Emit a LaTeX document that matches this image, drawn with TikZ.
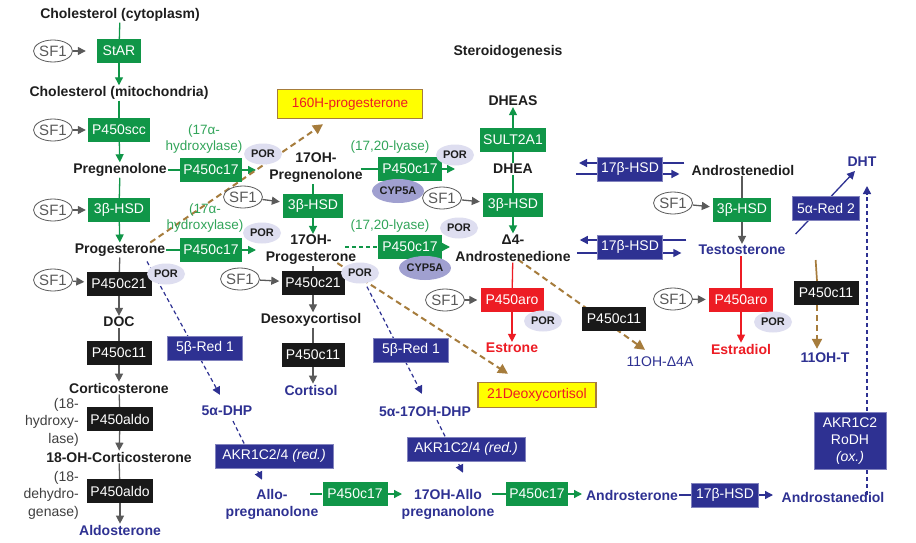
\documentclass[tikz,border=0pt]{standalone}
\usepackage{fontspec}
\setmainfont{Liberation Sans}
\usetikzlibrary{arrows.meta,shapes.geometric,calc}
\definecolor{gr}{RGB}{16,150,72}
\definecolor{grt}{RGB}{50,165,90}
\definecolor{nv}{RGB}{46,49,146}
\definecolor{rd}{RGB}{237,28,36}
\definecolor{br}{RGB}{166,124,60}
\definecolor{gy}{RGB}{90,90,90}
\definecolor{lav}{RGB}{222,222,240}
\definecolor{lavd}{RGB}{160,160,208}
\definecolor{txt}{RGB}{30,30,30}
\definecolor{yl}{RGB}{255,255,0}
\pgfdeclarelayer{back}
\pgfdeclarelayer{bg}
\pgfsetlayers{back,bg,main}
\begin{document}
\begin{tikzpicture}[x=1pt,y=-1pt,
 met/.style={font=\bfseries\fontsize{14}{17}\selectfont, text=txt, align=center, inner sep=1pt},
 bmet/.style={met, text=nv},
 rmet/.style={met, text=rd},
 box/.style={font=\fontsize{14}{16}\selectfont, text=white, minimum height=24pt, inner xsep=3pt, inner ysep=1pt, minimum width=62pt},
 gbox/.style={box, fill=gr},
 kbox/.style={box, fill=black!90},
 nbox/.style={box, fill=nv, draw=nv!60, line width=0.8pt},
 rbox/.style={box, fill=rd},
 ybox/.style={fill=yl, draw=br, line width=1.4pt, text=rd, font=\fontsize{13.5}{15}\selectfont, minimum height=25pt},
 sf/.style={ellipse, draw=gy, line width=0.8pt, text=gy, font=\fontsize{15}{16}\selectfont, minimum width=39pt, minimum height=22pt, inner sep=0pt},
 por/.style={ellipse, fill=lav, text=txt, font=\bfseries\fontsize{11}{12}\selectfont, minimum width=38pt, minimum height=21pt, inner sep=0pt},
 cyp/.style={por, fill=lavd, minimum width=45pt, minimum height=24pt},
 gnote/.style={text=grt, font=\fontsize{13.5}{16}\selectfont, align=center, inner sep=0pt},
 knote/.style={text=txt!85, font=\fontsize{14}{17.5}\selectfont, align=right, inner sep=0pt},
 tip/.style={-{Triangle[length=8pt,width=8pt]}},
 gyl/.style={draw=gy, line width=1.3pt},
 gya/.style={gyl, tip},
 gl/.style={draw=gr, line width=1.3pt},
 ga/.style={gl, tip},
 rl/.style={draw=rd, line width=1.3pt},
 ra/.style={rl, tip},
 nl/.style={draw=nv, line width=1.3pt},
 na/.style={nl, tip},
 nda/.style={nl, line width=1.2pt, dash pattern=on 4pt off 3pt, tip},
 brl/.style={draw=br, line width=2pt},
 bda/.style={brl, dash pattern=on 6pt off 4pt, -{Triangle[length=10pt,width=10pt]}},
 ]
\useasboundingbox (0,0) rectangle (916,543);
\begin{pgfonlayer}{back}
\fill[white] (0,0) rectangle (916,543);
\end{pgfonlayer}

% ---------- column 1
\node[met] (chol1) at (120,15) {Cholesterol (cytoplasm)};
\node[gbox, minimum width=44pt] (star) at (119,51) {StAR};
\node[sf] (sf1) at (53,51) {SF1};
\node[met] (chol2) at (119,93) {Cholesterol (mitochondria)};
\node[gbox] (scc) at (119,130) {P450scc};
\node[sf] (sf2) at (53,130) {SF1};
\node[met] (preg) at (120,170) {Pregnenolone};
\node[gbox] (hsd1) at (119,210) {3β-HSD};
\node[sf] (sf3) at (53,210) {SF1};
\node[met] (prog) at (120,250) {Progesterone};
\node[kbox, minimum width=65pt] (c21a) at (119,284) {P450c21};
\node[sf] (sf4) at (53,280) {SF1};
\node[por] (pora) at (166,274) {POR};
\node[met] (doc) at (119,322) {DOC};
\node[kbox, minimum width=65pt] (c11a) at (119,353) {P450c11};
\node[met] (cort) at (119,388) {Corticosterone};
\node[kbox, minimum width=65pt] (aldo1) at (120,419) {P450aldo};
\node[knote, anchor=east] (n18a) at (79,422) {(18-\\hydroxy-\\lase)};
\node[met] (ohc) at (119,457) {18-OH-Corticosterone};
\node[kbox, minimum width=65pt] (aldo2) at (120,491) {P450aldo};
\node[knote, anchor=east] (n18b) at (79,495) {(18-\\dehydro-\\genase)};
\node[bmet] (aldst) at (120,530) {Aldosterone};

% ---------- column 2 (upper)
\node[gbox] (c17a) at (211,170) {P450c17};
\node[gnote] (n17a) at (204,139) {(17α-\\hydroxylase)};
\node[por] (porb) at (263,154) {POR};
\coordinate (c17aend) at (256,170);
\node[met] (ohpreg) at (316,168) {17OH-\\Pregnenolone};
\node[sf] (sf5) at (243,197) {SF1};
\node[gbox, minimum width=60pt] (hsd2) at (313,206) {3β-HSD};
\node[gbox] (c17b) at (211,250) {P450c17};
\node[gnote] (n17b) at (205,218) {(17α-\\hydroxylase)};
\node[por] (porc) at (262,233) {POR};
\coordinate (c17bend) at (256,250);
\node[met] (ohprog) at (311,250) {17OH-\\Progesterone};
\node[ybox, minimum width=145pt, minimum height=29pt] (oh16) at (350,104) {160H-progesterone};

% ---------- column 3 (upper)
\node[gbox, minimum width=64pt] (c17c) at (410,169) {P450c17};
\node[gnote] (n17c) at (390,147) {(17,20-lyase)};
\node[por] (pord) at (455,155) {POR};
\node[cyp] (cypa) at (398,191) {CYP5A};
\coordinate (c17cend) at (455,169);
\node[met] (dhea) at (513,169) {DHEA};
\node[gbox, minimum width=66pt] (sult) at (513,140) {SULT2A1};
\node[met] (dheas) at (513,101) {DHEAS};
\node[met] (title) at (508,52) {Steroidogenesis};
\node[sf] (sf6) at (442,198) {SF1};
\node[gbox, minimum width=60pt] (hsd3) at (513,205) {3β-HSD};
\node[met] (andro) at (513,248) {Δ4-\\Androstenedione};
\node[gbox, minimum width=64pt] (c17d) at (410,247) {P450c17};
\node[gnote] (n17d) at (390,226) {(17,20-lyase)};
\node[por] (pore) at (459,228) {POR};
\node[cyp] (cypb) at (425,268) {CYP5A};
\coordinate (c17dend) at (450,247);

% ---------- middle lower
\node[kbox, minimum width=63pt] (c21b) at (313,283) {P450c21};
\node[sf] (sf7) at (240,279) {SF1};
\node[por] (porf) at (360,273) {POR};
\node[met] (desoxy) at (311,320) {Desoxycortisol};
\node[kbox, minimum width=63pt] (c11b) at (313,355) {P450c11};
\node[bmet] (cortisol) at (311,390) {Cortisol};
\node[nbox, minimum width=75pt] (red1a) at (205,348) {5β-Red 1};
\node[bmet] (dhp) at (227,411) {5α-DHP};
\node[nbox, minimum width=75pt] (red1b) at (411,350) {5β-Red 1};
\node[bmet] (ohdhp) at (425,412) {5α-17OH-DHP};
\node[ybox, minimum width=118pt, font=\fontsize{14}{16}\selectfont] (deoxy21) at (537,395) {21Deoxycortisol};
\node[rbox, minimum width=63pt] (aroa) at (512,300) {P450aro};
\node[sf] (sf8) at (445,300) {SF1};
\node[por] (porg) at (543,321) {POR};
\node[rmet] (estrone) at (512,348) {Estrone};
\node[kbox, minimum width=64pt] (c11c) at (614,319) {P450c11};
\node[font=\fontsize{14}{16}\selectfont, text=nv, inner sep=1pt] (oh4a) at (660,362) {11OH-Δ4A};

% ---------- bottom row
\node[nbox, minimum width=118pt] (akra) at (274,456) {AKR1C2/4 \textit{(red.)}};
\node[bmet] (allo) at (272,504) {Allo-\\pregnanolone};
\node[gbox, minimum width=65pt] (c17e) at (355,494) {P450c17};
\coordinate (c17eend) at (402,494);
\node[bmet] (ohallo) at (448,504) {17OH-Allo\\pregnanolone};
\node[nbox, minimum width=118pt] (akrb) at (466,449) {AKR1C2/4 \textit{(red.)}};
\node[gbox, minimum width=62pt] (c17f) at (537,494) {P450c17};
\coordinate (c17fend) at (582,494);
\node[bmet] (androst) at (632,495) {Androsterone};
\node[nbox, minimum width=67pt] (hsd17c) at (725,495) {17β-HSD};
\coordinate (hsd17cend) at (773,495);
\node[bmet] (adiol) at (833,497) {Androstanediol};
\node[nbox, minimum width=72pt, minimum height=57pt, align=center, font=\fontsize{14}{17}\selectfont] (akrc) at (850,441) {AKR1C2\\RoDH\\\textit{(ox.)}};
\coordinate (dhtin) at (867,186);

% ---------- right
\node[nbox, minimum width=65pt] (hsd17a) at (630,169) {17β-HSD};
\node[nbox, minimum width=65pt] (hsd17b) at (630,247) {17β-HSD};
\node[met] (adiene) at (743,170) {Androstenediol};
\node[gbox, minimum width=58pt] (hsd4) at (742,210) {3β-HSD};
\node[sf] (sf9) at (673,203) {SF1};
\node[bmet] (testo) at (742,250) {Testosterone};
\node[rbox, minimum width=64pt] (arob) at (741,300) {P450aro};
\node[sf] (sf10) at (673,299) {SF1};
\node[por] (porh) at (773,322) {POR};
\node[rmet] (estradiol) at (741,349) {Estradiol};
\node[nbox, minimum width=67pt] (red2) at (826,208) {5α-Red 2};
\node[bmet] (dht) at (862,162) {DHT};
\node[kbox, minimum width=65pt] (c11d) at (826,293) {P450c11};
\node[bmet] (oht) at (825,358) {11OH-T};

\begin{pgfonlayer}{bg}
% column 1
\draw[gl] (chol1) -- (star);
\draw[ga] (star) -- (chol2);
\draw[gya, shorten >=11pt] (sf1) -- (star);
\draw[gl] (chol2) -- (scc);
\draw[ga] (scc) -- (preg);
\draw[gya, shorten >=2pt] (sf2) -- (scc);
\draw[gl] (preg) -- (hsd1);
\draw[ga] (hsd1) -- (prog);
\draw[gya, shorten >=2pt] (sf3) -- (hsd1);
\draw[gyl] (prog) -- (c21a);
\draw[gya] (c21a) -- (doc);
\draw[gya, shorten >=2pt] (sf4) -- (c21a);
\draw[gyl] (doc) -- (c11a);
\draw[gya] (c11a) -- (cort);
\draw[gyl] (cort) -- (aldo1);
\draw[gya] (aldo1) -- (ohc);
\draw[gyl] (ohc) -- (aldo2);
\draw[gya] (aldo2) -- (aldst);
% P450c17 branches
\draw[gl] (preg) -- (c17a);
\draw[ga] (c17a) -- (c17aend);
\draw[gl] (prog) -- (c17b);
\draw[ga] (c17b) -- (c17bend);
\draw[gl] (hsd2 |- ohpreg.south) -- (hsd2);
\draw[ga] (hsd2) -- (hsd2 |- ohprog.north);
\draw[gya, shorten >=3pt] (sf5) -- (hsd2);
\draw[gyl] (c21b |- ohprog.south) -- (c21b);
\draw[gya] (c21b) -- (c21b |- desoxy.north);
\draw[gya, shorten >=2pt] (sf7) -- (c21b);
\draw[gyl] (c11b |- desoxy.south) -- (c11b);
\draw[gya] (c11b) -- (c11b |- cortisol.north);
\draw[gl] ($(ohpreg.east |- c17c)+(-3,0)$) -- (c17c);
\draw[ga] (c17c) -- (c17cend);
\draw[gl, dash pattern=on 4pt off 3pt] ($(ohprog.east |- c17d)+(-12,0)$) -- (c17d);
\draw[ga] (c17d) -- (c17dend);
% DHEA column
\draw[gl] (dhea) -- (sult);
\draw[ga] (sult) -- (dheas);
\draw[gl] (dhea) -- (hsd3);
\draw[ga] (hsd3) -- (andro);
\draw[gya, shorten >=3pt] (sf6) -- (hsd3);
\draw[rl] (andro) -- (aroa);
\draw[ra] (aroa) -- (estrone);
\draw[gya, shorten >=3pt] (sf8) -- (aroa);
% brown dashed
\draw[bda] ($(prog.north east)+(-16,0)$) -- ($(oh16.south)+(-27,5)$);
\draw[bda] ($(ohprog.south east)+(-20,-3)$) -- ($(deoxy21.north)+(-29,-8)$);
\draw[bda] ($(andro.south)+(5,-3)$) -- ($(oh4a.north)+(-15,-6)$);
% blue dashed
\draw[nda] ($(prog.south)+(27,4)$) -- ($(dhp.north)+(-7,-10)$);
\draw[nda] ($(porf.south)+(7,3)$) -- ($(ohdhp.north)+(-3,-12)$);
\draw[nda] ($(dhp.south)+(6,4)$) -- ($(allo.north)+(-10,-8)$);
\draw[nda] ($(ohdhp.south)+(12,2)$) -- ($(ohallo.north)+(15,-15)$);
% bottom row
\draw[gl] ($(allo.east |- c17e)+(-9,0)$) -- (c17e);
\draw[ga] (c17e) -- (c17eend);
\draw[gl] ($(ohallo.east |- c17f)+(-3,0)$) -- (c17f);
\draw[ga] (c17f) -- (c17fend);
\draw[nl] (androst) -- (hsd17c);
\draw[na] (hsd17c) -- (hsd17cend);
\draw[nda, line width=1.5pt] ($(adiol.north)+(34,4)$) -- (dhtin);
% 17beta-HSD pairs
\draw[na] ($(adiene.west |- hsd17a)+(-6,-6)$) -- ($(dhea.east |- hsd17a)+(45,-6)$);
\draw[na] ($(dhea.east |- hsd17a)+(42,5)$) -- ($(adiene.west |- hsd17a)+(-11,5)$);
\draw[na] ($(testo.west |- hsd17b)+(-11,-7)$) -- ($(andro.east |- hsd17b)+(8,-7)$);
\draw[na] ($(andro.east |- hsd17b)+(5,6)$) -- ($(testo.west |- hsd17b)+(-16,6)$);
% right column
\draw[gyl] (hsd4 |- adiene.south) -- (hsd4);
\draw[gya] (hsd4) -- (hsd4 |- testo.north);
\draw[gya, shorten >=3pt] (sf9) -- (hsd4);
\draw[rl] (arob |- testo.south) -- (arob);
\draw[ra] (arob) -- (arob |- estradiol.north);
\draw[gya, shorten >=3pt] (sf10) -- (arob);
\draw[na] ($(testo.east)+(9,-16)$) -- ($(dht.south)+(-7,3)$);
\draw[draw=br, line width=1.7pt] ($(testo.east)+(29,10)$) -- ($(c11d.north)+(-9,0)$);
\draw[bda] ($(c11d.south)+(-9,0)$) -- ($(oht.north)+(-8,-3)$);
\end{pgfonlayer}
\end{tikzpicture}
\end{document}
